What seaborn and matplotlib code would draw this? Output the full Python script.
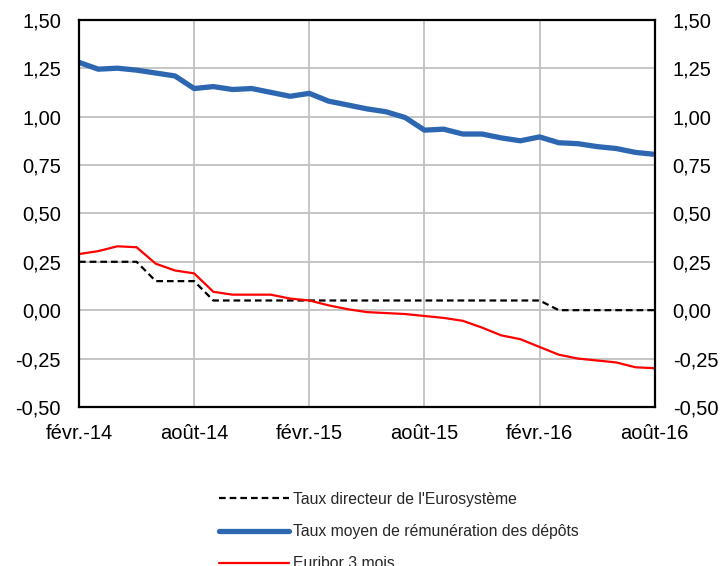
import pandas as pd
import matplotlib
matplotlib.use("Agg")
import matplotlib.pyplot as plt
from matplotlib.ticker import FuncFormatter
import seaborn as sns

# Monthly data, févr.-14 to août-16
tick_labels = ["févr.-14", "août-14", "févr.-15", "août-15", "févr.-16", "août-16"]

taux_directeur = [0.25, 0.25, 0.25, 0.25, 0.15, 0.15, 0.15, 0.05, 0.05, 0.05, 0.05,
                  0.05, 0.05, 0.05, 0.05, 0.05, 0.05, 0.05, 0.05, 0.05, 0.05, 0.05,
                  0.05, 0.05, 0.05, 0.00, 0.00, 0.00, 0.00, 0.00, 0.00]

taux_depots = [1.28, 1.245, 1.25, 1.24, 1.225, 1.21, 1.145, 1.155, 1.14, 1.145, 1.125,
               1.105, 1.12, 1.08, 1.06, 1.04, 1.025, 0.995, 0.93, 0.935, 0.91, 0.91,
               0.89, 0.875, 0.895, 0.865, 0.86, 0.845, 0.835, 0.815, 0.805]

euribor = [0.29, 0.305, 0.33, 0.325, 0.24, 0.205, 0.19, 0.095, 0.08, 0.08, 0.08,
           0.06, 0.05, 0.025, 0.005, -0.01, -0.015, -0.02, -0.03, -0.04, -0.055, -0.09,
           -0.13, -0.15, -0.19, -0.23, -0.25, -0.26, -0.27, -0.295, -0.30]

df = pd.DataFrame({
    "mois": range(len(taux_depots)),
    "directeur": taux_directeur,
    "depots": taux_depots,
    "euribor": euribor,
})

sns.set_style("white")
plt.rcParams["font.family"] = ["Liberation Sans", "DejaVu Sans"]

fig = plt.figure(figsize=(7.25, 5.66), dpi=100)
ax = fig.add_axes([0.109, 0.281, 0.794, 0.684])

sns.lineplot(data=df, x="mois", y="directeur", ax=ax, color="black", lw=1.6,
             linestyle=(0, (3, 1.8)), label="Taux directeur de l'Eurosystème")
sns.lineplot(data=df, x="mois", y="depots", ax=ax, color="#2E67B1", lw=3.8,
             label="Taux moyen de rémunération des dépôts")
sns.lineplot(data=df, x="mois", y="euribor", ax=ax, color="#FF0000", lw=1.6,
             label="Euribor 3 mois")

ax.set_xlim(0, 30)
ax.set_ylim(-0.5, 1.5)
ax.set_xticks(range(0, 31, 6))
ax.set_xticklabels(tick_labels)
ax.set_yticks([-0.5, -0.25, 0, 0.25, 0.5, 0.75, 1.0, 1.25, 1.5])
ax.yaxis.set_major_formatter(FuncFormatter(lambda v, p: f"{v:.2f}".replace(".", ",")))
ax.set_xlabel("")
ax.set_ylabel("")

ax.grid(True, color="#C0C0C0", lw=1.3)
ax.set_axisbelow(True)
for s in ax.spines.values():
    s.set_color("black")
    s.set_linewidth(1.6)

ax.tick_params(axis="both", length=0, labelsize=14.5, colors="black")
ax.tick_params(axis="y", labelright=True, pad=13)
ax.tick_params(axis="x", pad=12)

handles, labels = ax.get_legend_handles_labels()
ax.get_legend().remove()
fig.legend(handles, labels, loc="upper left", bbox_to_anchor=(0.293, 0.142),
           frameon=False, fontsize=11.3, handlelength=4.45, handletextpad=0.3,
           labelspacing=1.1, borderaxespad=0)

fig.savefig("out.png", dpi=100)
